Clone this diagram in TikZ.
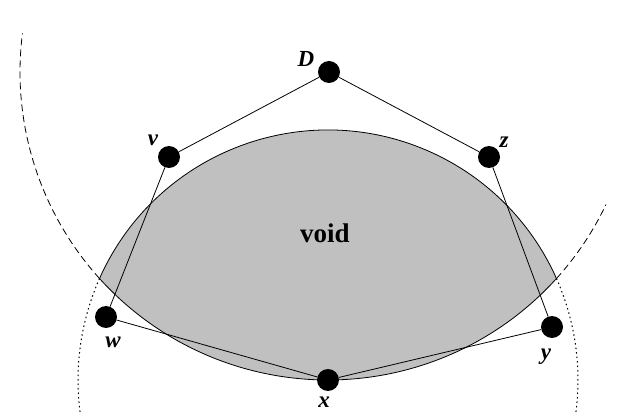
\documentclass[tikz,border=0pt]{standalone}
\usepackage{fontspec}
\setmainfont{Liberation Serif}
\usetikzlibrary{calc}
\definecolor{voidgray}{RGB}{192,192,192}
\begin{document}
\begin{tikzpicture}[x=1pt,y=1pt,
  vertex/.style={circle,fill=black,inner sep=0pt,minimum size=22pt},
  lbl/.style={font=\fontsize{23}{25}\selectfont\bfseries\itshape,inner sep=0pt},
  edge/.style={line width=0.8pt},
  bigdash/.style={line width=0.8pt,dash pattern=on 7pt off 4pt},
  smalldot/.style={line width=1pt,dash pattern=on 1.5pt off 3pt}]
\useasboundingbox (0,0) rectangle (622,413);
% centres of the two circles
\coordinate (cD) at (328,341);
\coordinate (cX) at (328,33);
% lens (void)
\fill[voidgray,draw=black,line width=0.8pt]
  ($(cX)+(156.05:250)$) arc[start angle=156.05,end angle=23.95,radius=250]
  arc[start angle=-42.11,end angle=-137.89,radius=308] -- cycle;
% dashed arcs of circle centred at D
\draw[bigdash] ($(cD)+(-137.89:308)$) arc[start angle=-137.89,end angle=-187.2,radius=308];
\draw[bigdash] ($(cD)+(-42.11:308)$) arc[start angle=-42.11,end angle=-25.5,radius=308];
% dotted arcs of circle centred at x
\draw[smalldot] ($(cX)+(156.05:250)$) arc[start angle=156.05,end angle=187.6,radius=250];
\draw[smalldot] ($(cX)+(23.95:250)$) arc[start angle=23.95,end angle=-7.6,radius=250];
% vertices
\node[vertex] (D) at (329,341) {};
\node[vertex] (v) at (169,256) {};
\node[vertex] (z) at (489,256) {};
\node[vertex] (w) at (106,96) {};
\node[vertex] (y) at (552,86) {};
\node[vertex] (x) at (328,33) {};
% polygon
\draw[edge] (D) -- (v) -- (w) -- (x) -- (y) -- (z) -- (D);
% labels
\node[lbl] (lD) at (306,354) {D};
\node[lbl] (lv) at (153,273) {v};
\node[lbl] (lz) at (504,271) {z};
\node[lbl] (lw) at (113,71) {w};
\node[lbl] (ly) at (546,56) {y};
\node[lbl] (lx) at (324,11) {x};
\node[font=\fontsize{27}{30}\selectfont\bfseries,inner sep=0pt] (void) at (325,180) {void};
\end{tikzpicture}
\end{document}
